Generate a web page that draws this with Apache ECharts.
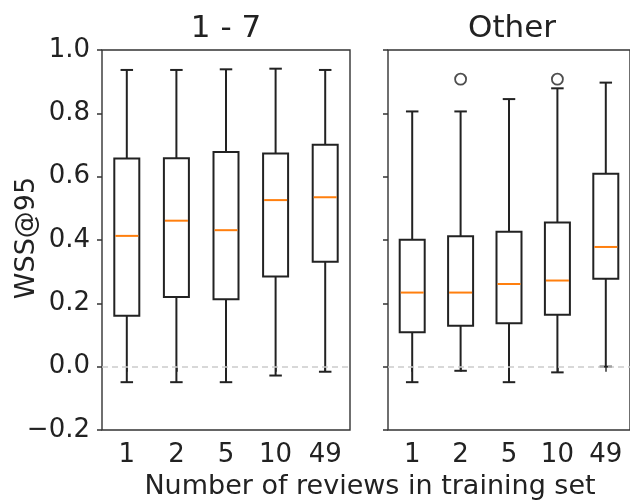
<!DOCTYPE html>
<html>
<head>
<meta charset="utf-8">
<script src="https://cdn.jsdelivr.net/npm/echarts@6/dist/echarts.min.js"></script>
<style>html,body{margin:0;padding:0;background:#fff;}#c{width:630px;height:500px;}</style>
</head>
<body>
<div id="c"></div>
<script>
const categories = ['1', '2', '5', '10', '49'];
const panelTitles = ['1 - 7', 'Other'];
const yTicks = [-0.2, 0.0, 0.2, 0.4, 0.6, 0.8, 1.0];
const xAxisTitle = 'Number of reviews in training set';
const yAxisTitle = 'WSS@95';

// Panel "1 - 7"
const p1Low  = [-0.049, -0.049, -0.049, -0.028, -0.016];
const p1Q1   = [0.161, 0.220, 0.213, 0.285, 0.331];
const p1Med  = [0.413, 0.461, 0.431, 0.526, 0.535];
const p1Q3   = [0.657, 0.658, 0.678, 0.673, 0.701];
const p1High = [0.937, 0.937, 0.939, 0.941, 0.937];
const p1Outliers = [];

// Panel "Other"
const p2Low  = [-0.049, -0.013, -0.049, -0.018, 0.000];
const p2Q1   = [0.109, 0.129, 0.137, 0.164, 0.278];
const p2Med  = [0.234, 0.234, 0.261, 0.272, 0.378];
const p2Q3   = [0.401, 0.412, 0.426, 0.455, 0.609];
const p2High = [0.806, 0.806, 0.845, 0.879, 0.897];
const p2Outliers = [['2', 0.908], ['10', 0.908]];

const FONT = 'DejaVu Sans';
const TXT = '#222';
const LINE = '#222';
const MED = '#ff7f0e';

function boxData(low, q1, med, q3, high) {
  return categories.map((c, i) => [i, low[i], q1[i], med[i], q3[i], high[i]]);
}

function renderBox(params, api) {
  const x = api.value(0);
  const low = api.coord([x, api.value(1)]);
  const q1 = api.coord([x, api.value(2)]);
  const med = api.coord([x, api.value(3)]);
  const q3 = api.coord([x, api.value(4)]);
  const high = api.coord([x, api.value(5)]);
  const cx = low[0];
  const bw = 25, cw = 12.5;
  const st = { stroke: LINE, lineWidth: 2, fill: null };
  return {
    type: 'group',
    children: [
      { type: 'line', shape: { x1: cx, y1: q3[1], x2: cx, y2: high[1] }, style: st },
      { type: 'line', shape: { x1: cx, y1: q1[1], x2: cx, y2: low[1] }, style: st },
      { type: 'line', shape: { x1: cx - cw / 2, y1: high[1], x2: cx + cw / 2, y2: high[1] }, style: st },
      { type: 'line', shape: { x1: cx - cw / 2, y1: low[1], x2: cx + cw / 2, y2: low[1] }, style: st },
      { type: 'rect', shape: { x: cx - bw / 2, y: q3[1], width: bw, height: q1[1] - q3[1] }, style: { stroke: LINE, lineWidth: 2, fill: 'rgba(0,0,0,0)' } },
      { type: 'line', shape: { x1: cx - bw / 2 + 1, y1: med[1], x2: cx + bw / 2 - 1, y2: med[1] }, style: { stroke: MED, lineWidth: 2 } }
    ]
  };
}

const grids = [
  { left: 102, top: 50, width: 248, height: 380 },
  { left: 388, top: 50, width: 249, height: 380 }
];

function mkX(idx) {
  return {
    type: 'category', gridIndex: idx, data: categories, boundaryGap: true,
    axisLine: { show: false },
    axisTick: { show: true, alignWithLabel: true, length: 5, lineStyle: { color: '#333', width: 1.5 } },
    axisLabel: { color: TXT, fontFamily: FONT, fontSize: 26, margin: 25, verticalAlign: 'middle' },
    splitLine: { show: false }
  };
}
function mkY(idx, showLabels) {
  return {
    type: 'value', gridIndex: idx, min: -0.2, max: 1.0, interval: 0.2,
    axisLine: { show: false },
    axisTick: { show: true, length: 5, lineStyle: { color: '#333', width: 1.5 } },
    axisLabel: {
      show: showLabels, color: TXT, fontFamily: FONT, fontSize: 26, margin: 12,
      formatter: v => (Math.abs(v) < 1e-9 ? '0.0' : v.toFixed(1).replace('-', '\u2212'))
    },
    splitLine: { show: false }
  };
}

const chart = echarts.init(document.getElementById('c'), null, { renderer: 'canvas' });

const zeroLine = {
  silent: true, symbol: 'none', label: { show: false },
  lineStyle: { color: '#cccccc', type: [6, 4], width: 1.6 },
  data: [{ yAxis: 0 }]
};

chart.setOption({
  animation: false,
  backgroundColor: '#fff',
  grid: grids.map(g => Object.assign({ show: true, borderColor: '#333', borderWidth: 1.4, backgroundColor: 'transparent' }, g)),
  xAxis: [mkX(0), mkX(1)],
  yAxis: [mkY(0, true), mkY(1, false)],
  graphic: [
    { type: 'text', x: 226, y: 29, style: { text: panelTitles[0], font: '31px "DejaVu Sans"', fill: TXT, align: 'center', verticalAlign: 'middle' } },
    { type: 'text', x: 512, y: 29, style: { text: panelTitles[1], font: '31px "DejaVu Sans"', fill: TXT, align: 'center', verticalAlign: 'middle' } },
    { type: 'text', x: 370, y: 487, style: { text: xAxisTitle, font: '27px "DejaVu Sans"', fill: TXT, align: 'center', verticalAlign: 'middle' } },
    { type: 'text', x: 26.5, y: 238, rotation: Math.PI / 2, style: { text: yAxisTitle, font: '27px "DejaVu Sans"', fill: TXT, align: 'center', verticalAlign: 'middle' } }
  ],
  series: [
    { type: 'line', xAxisIndex: 0, yAxisIndex: 0, data: [], z: 1, markLine: zeroLine },
    { type: 'line', xAxisIndex: 1, yAxisIndex: 1, data: [], z: 1, markLine: zeroLine },
    { type: 'custom', xAxisIndex: 0, yAxisIndex: 0, z: 3, renderItem: renderBox, data: boxData(p1Low, p1Q1, p1Med, p1Q3, p1High), encode: { x: 0, y: [1, 2, 3, 4, 5] } },
    { type: 'custom', xAxisIndex: 1, yAxisIndex: 1, z: 3, renderItem: renderBox, data: boxData(p2Low, p2Q1, p2Med, p2Q3, p2High), encode: { x: 0, y: [1, 2, 3, 4, 5] } },
    { type: 'scatter', xAxisIndex: 0, yAxisIndex: 0, z: 3, symbol: 'circle', symbolSize: 11, data: p1Outliers, itemStyle: { color: 'rgba(0,0,0,0)', borderColor: LINE, borderWidth: 1.8 } },
    { type: 'scatter', xAxisIndex: 1, yAxisIndex: 1, z: 3, symbol: 'circle', symbolSize: 11, data: p2Outliers, itemStyle: { color: 'rgba(0,0,0,0)', borderColor: LINE, borderWidth: 1.8 } }
  ]
});
</script>
</body>
</html>
